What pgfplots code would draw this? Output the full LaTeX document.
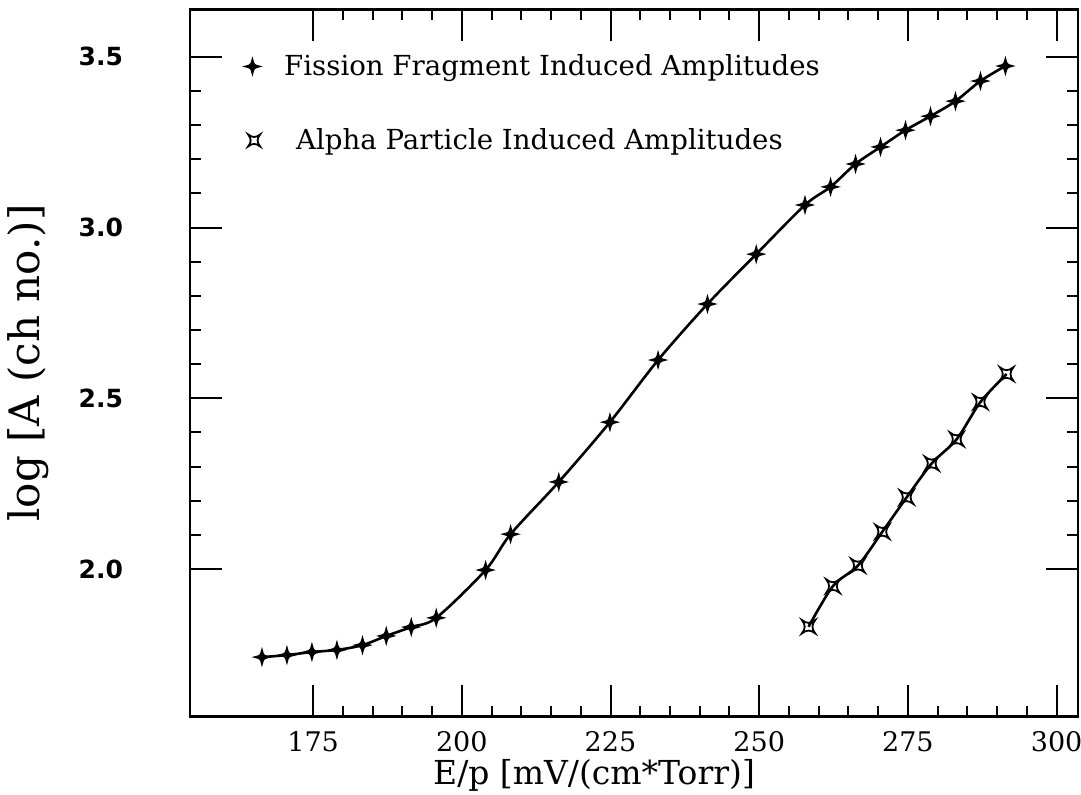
\documentclass[border=0pt]{standalone}
\usepackage{pgfplots}
\pgfplotsset{compat=1.18}
\usepackage{fontspec}
\setmainfont{DejaVu Serif}
\newfontfamily\tickfont{DejaVu Sans}

\pgfdeclareplotmark{fstar}{%
  \pgfpathmoveto{\pgfqpoint{0pt}{\pgfplotmarksize}}%
  \pgfpathcurveto{\pgfqpoint{0.2\pgfplotmarksize}{0.2\pgfplotmarksize}}{\pgfqpoint{0.2\pgfplotmarksize}{0.2\pgfplotmarksize}}{\pgfqpoint{\pgfplotmarksize}{0pt}}%
  \pgfpathcurveto{\pgfqpoint{0.2\pgfplotmarksize}{-0.2\pgfplotmarksize}}{\pgfqpoint{0.2\pgfplotmarksize}{-0.2\pgfplotmarksize}}{\pgfqpoint{0pt}{-\pgfplotmarksize}}%
  \pgfpathcurveto{\pgfqpoint{-0.2\pgfplotmarksize}{-0.2\pgfplotmarksize}}{\pgfqpoint{-0.2\pgfplotmarksize}{-0.2\pgfplotmarksize}}{\pgfqpoint{-\pgfplotmarksize}{0pt}}%
  \pgfpathcurveto{\pgfqpoint{-0.2\pgfplotmarksize}{0.2\pgfplotmarksize}}{\pgfqpoint{-0.2\pgfplotmarksize}{0.2\pgfplotmarksize}}{\pgfqpoint{0pt}{\pgfplotmarksize}}%
  \pgfpathclose
  \pgfusepathqfillstroke}

\pgfdeclareplotmark{astar}{%
  \pgfpathmoveto{\pgfqpoint{0.707\pgfplotmarksize}{0.707\pgfplotmarksize}}%
  \pgfpathcurveto{\pgfqpoint{0.2\pgfplotmarksize}{0.3\pgfplotmarksize}}{\pgfqpoint{-0.2\pgfplotmarksize}{0.3\pgfplotmarksize}}{\pgfqpoint{-0.707\pgfplotmarksize}{0.707\pgfplotmarksize}}%
  \pgfpathcurveto{\pgfqpoint{-0.3\pgfplotmarksize}{0.2\pgfplotmarksize}}{\pgfqpoint{-0.3\pgfplotmarksize}{-0.2\pgfplotmarksize}}{\pgfqpoint{-0.707\pgfplotmarksize}{-0.707\pgfplotmarksize}}%
  \pgfpathcurveto{\pgfqpoint{-0.2\pgfplotmarksize}{-0.3\pgfplotmarksize}}{\pgfqpoint{0.2\pgfplotmarksize}{-0.3\pgfplotmarksize}}{\pgfqpoint{0.707\pgfplotmarksize}{-0.707\pgfplotmarksize}}%
  \pgfpathcurveto{\pgfqpoint{0.3\pgfplotmarksize}{-0.2\pgfplotmarksize}}{\pgfqpoint{0.3\pgfplotmarksize}{0.2\pgfplotmarksize}}{\pgfqpoint{0.707\pgfplotmarksize}{0.707\pgfplotmarksize}}%
  \pgfpathclose
  \pgfusepathqstroke}

\begin{document}
\begin{tikzpicture}
\useasboundingbox (-95pt,-38.65pt) rectangle (445.5pt,358.35pt);
\begin{axis}[
  at={(0,0)}, anchor=south west,
  scale only axis,
  width=444pt, height=353.7pt,
  xmin=154.3, xmax=303.6,
  ymin=1.5675, ymax=3.639,
  xtick={175,200,225,250,275,300},
  ytick={2.0,2.5,3.0,3.5},
  minor x tick num=4,
  minor y tick num=4,
  tick align=inside,
  major tick length=16pt,
  minor tick length=5.5pt,
  every tick/.style={black, line width=1pt},
  axis line style={line width=1.3pt},
  /pgf/number format/assume math mode=true,
  xticklabel style={font=\fontsize{13.5}{14}\selectfont, yshift=-4pt},
  yticklabel style={font=\tickfont\bfseries\fontsize{12.5}{13}\selectfont, xshift=-30pt,
     /pgf/number format/.cd, fixed, fixed zerofill, precision=1},
  xlabel={E/p [mV/(cm*Torr)]},
  ylabel={log [A (ch no.)]},
  xlabel style={font=\fontsize{16.5}{18}\selectfont, at={(axis description cs:0.455,-0.083)}, anchor=center},
  ylabel style={font=\fontsize{21}{22}\selectfont, at={(axis description cs:-0.182,0.5)}, anchor=center},
  legend style={draw=none, fill=none, at={(rel axis cs:0.055,0.948)}, anchor=north west,
     font=\fontsize{13.8}{15}\selectfont, row sep=21pt, cells={anchor=west}},
]
\addplot[black, line width=1.3pt, smooth, mark=fstar, mark size=3.6pt,
  mark options={line width=0.8pt, fill=black},
  legend image code/.code={\draw[mark=fstar, mark size=3.6pt, mark options={line width=0.8pt, fill=black}] plot coordinates {(0.25cm,0cm)};}]
coordinates {
(166.4,1.742) (170.6,1.748) (174.8,1.757) (179.0,1.763) (183.3,1.777)
(187.3,1.804) (191.5,1.830) (195.7,1.857) (204.0,1.997) (208.2,2.102)
(216.3,2.255) (224.9,2.430) (233.0,2.612) (241.3,2.776) (249.5,2.922)
(257.7,3.066) (262.0,3.119) (266.2,3.186) (270.4,3.236) (274.6,3.285)
(278.8,3.326) (283.0,3.370) (287.2,3.429) (291.4,3.473)
};
\addlegendentry{\hspace{10pt}Fission Fragment Induced Amplitudes}
\addplot[black, line width=1.3pt, smooth, mark=astar, mark size=4.8pt,
  mark options={line width=0.9pt},
  legend image code/.code={\draw[mark=astar, mark size=4.3pt, mark options={line width=0.9pt}] plot coordinates {(0.28cm,0cm)};}]
coordinates {
(258.3,1.831) (262.4,1.950) (266.6,2.010) (270.7,2.109) (274.8,2.210)
(279.0,2.309) (283.2,2.380) (287.2,2.489) (291.6,2.571)
};
\addlegendentry{\hspace{16pt}Alpha Particle Induced Amplitudes}
\end{axis}
\end{tikzpicture}
\end{document}
